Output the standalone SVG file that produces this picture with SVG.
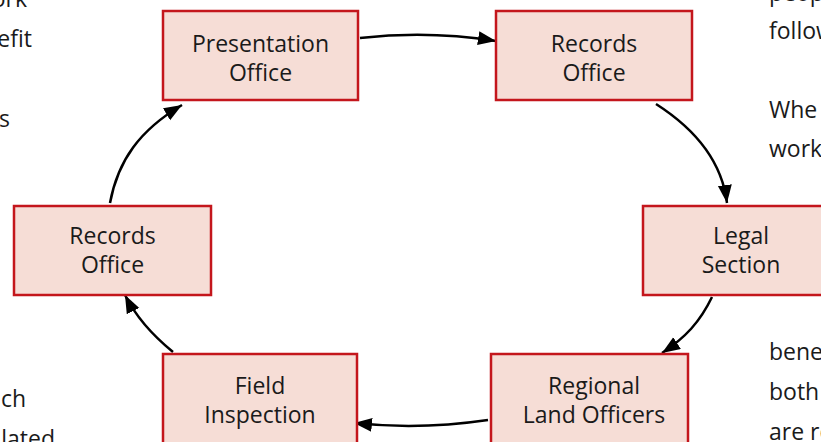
<svg xmlns="http://www.w3.org/2000/svg" width="821" height="442" viewBox="0 0 821 442">
<defs>
<style>
.box{fill:#f6ddd6;stroke:#c4161c;stroke-width:2.5}
.lbl{font-family:"Open Sans","Noto Sans",sans-serif;font-size:23px;fill:#1a1a1a;text-anchor:middle}
.body{font-family:"Open Sans","Noto Sans",sans-serif;font-size:23px;fill:#1a1a1a}
.edge{fill:none;stroke:#000;stroke-width:2.5}
</style>
<marker id="ah" markerUnits="userSpaceOnUse" markerWidth="20" markerHeight="16" refX="18" refY="7" orient="auto">
<path d="M0,0 L18,7 L0,14 Z" fill="#000"/>
</marker>
</defs>
<rect width="821" height="442" fill="#fff"/>
<g id="bodytext">
<text class="body" x="27" y="7" text-anchor="end">ork</text>
<text class="body" x="32" y="47" text-anchor="end">efit</text>
<text class="body" x="10" y="127" text-anchor="end">s</text>
<text class="body" x="26" y="407" text-anchor="end">ch</text>
<text class="body" x="55" y="447" text-anchor="end">lated</text>
<text class="body" x="769" y="1">peop</text>
<text class="body" x="769" y="39">follow</text>
<text class="body" x="769" y="118">Whe</text>
<text class="body" x="769" y="157">work</text>
<text class="body" x="769" y="360">bene</text>
<text class="body" x="769" y="400">both</text>
<text class="body" x="769" y="440">are re</text>
</g>
<g id="connectors">
<path class="edge" d="M360,38 Q428,30 496,41" marker-end="url(#ah)"/>
<path class="edge" d="M656,104 Q720,145 727,203" marker-end="url(#ah)"/>
<path class="edge" d="M712,297 C700,322 685,338 662,353" marker-end="url(#ah)"/>
<path class="edge" d="M488,420 Q420,430 354,423" marker-end="url(#ah)"/>
<path class="edge" d="M173,352 Q140,325 125,295" marker-end="url(#ah)"/>
<path class="edge" d="M110,203 C118,160 140,130 182,105" marker-end="url(#ah)"/>
</g>
<g id="presentation-office">
<rect class="box" x="163" y="11" width="195" height="89"/>
<text class="lbl" x="260.5" y="52">Presentation</text>
<text class="lbl" x="260.5" y="81">Office</text>
</g>
<g id="records-office-top">
<rect class="box" x="496" y="11" width="196" height="89"/>
<text class="lbl" x="594" y="52">Records</text>
<text class="lbl" x="594" y="81">Office</text>
</g>
<g id="legal-section">
<rect class="box" x="643" y="206" width="196" height="89"/>
<text class="lbl" x="741" y="244">Legal</text>
<text class="lbl" x="741" y="273">Section</text>
</g>
<g id="regional-land-officers">
<rect class="box" x="491" y="354" width="197" height="95"/>
<text class="lbl" x="594" y="394">Regional</text>
<text class="lbl" x="594" y="423">Land Officers</text>
</g>
<g id="field-inspection">
<rect class="box" x="163" y="354" width="194" height="95"/>
<text class="lbl" x="260" y="394">Field</text>
<text class="lbl" x="260" y="423">Inspection</text>
</g>
<g id="records-office-left">
<rect class="box" x="14" y="206" width="197" height="89"/>
<text class="lbl" x="112.5" y="244">Records</text>
<text class="lbl" x="112.5" y="273">Office</text>
</g>
</svg>
